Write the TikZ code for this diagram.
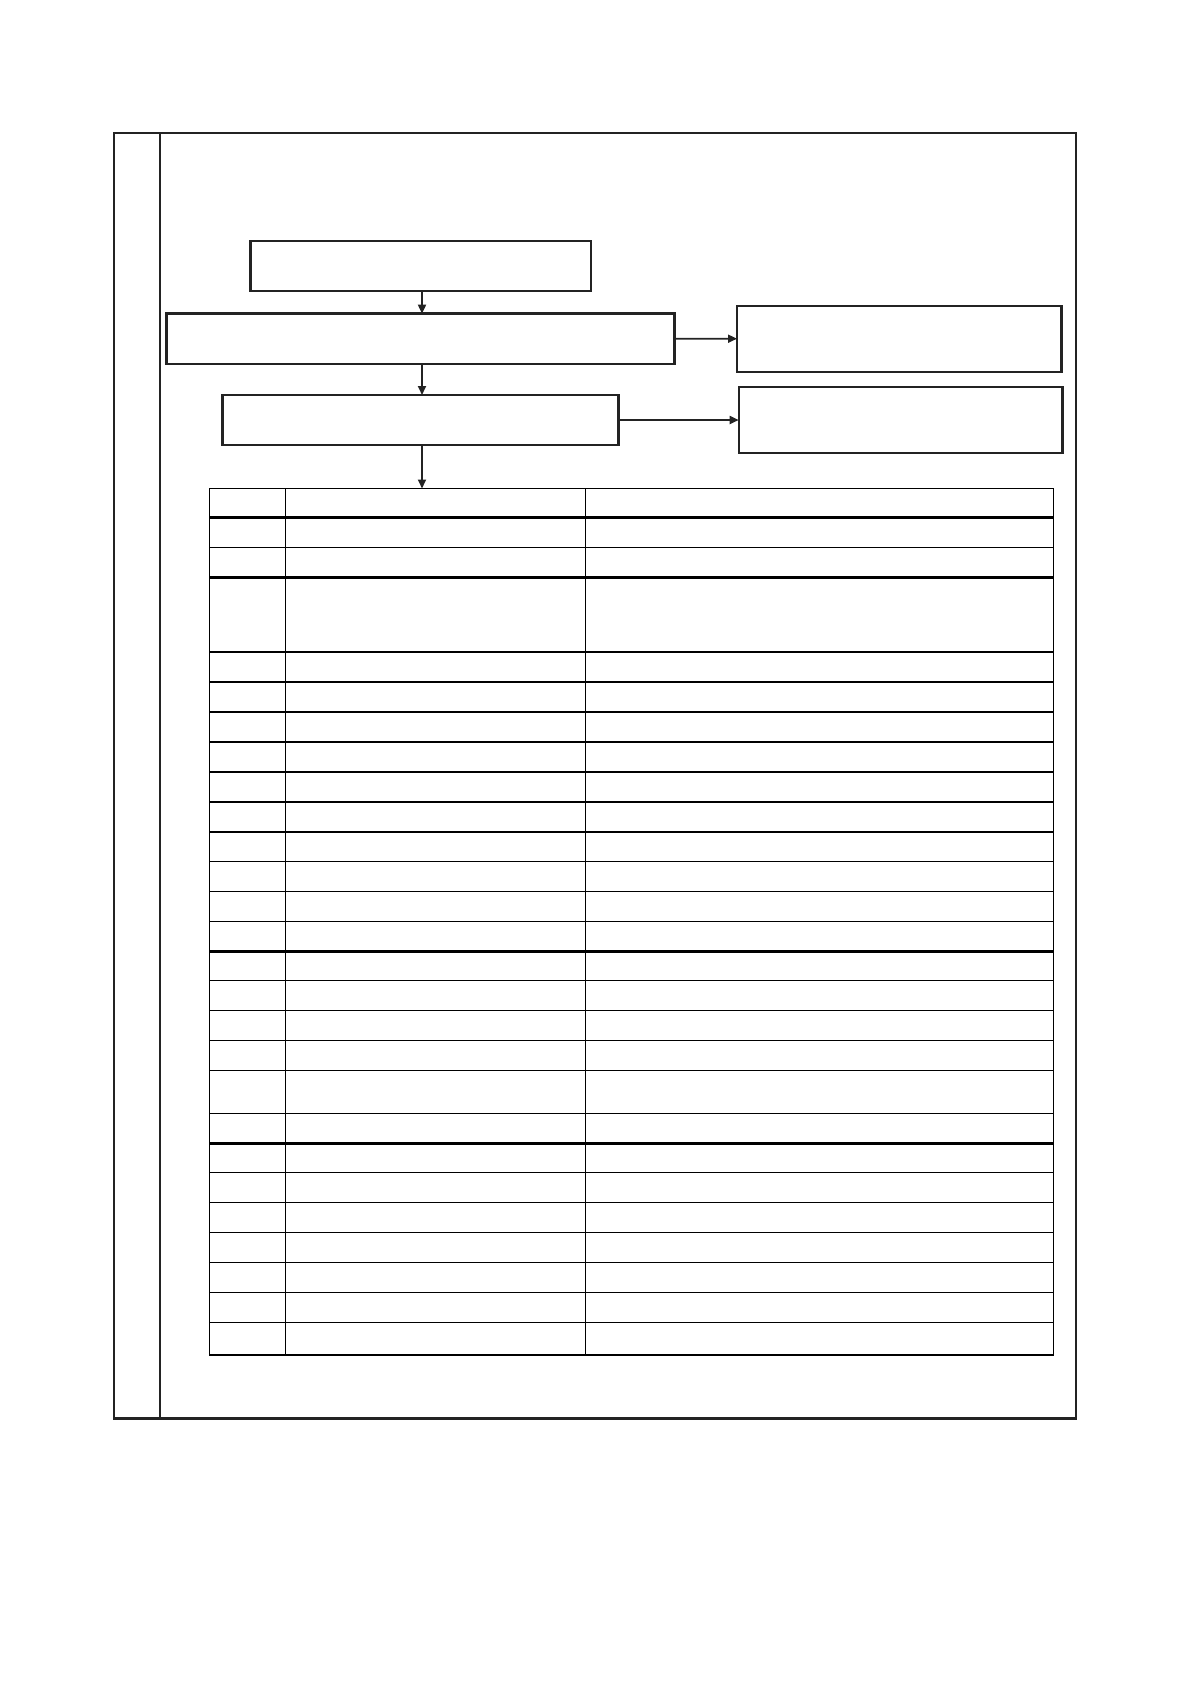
\documentclass[tikz,border=0pt]{standalone}
\usetikzlibrary{arrows.meta}
\definecolor{ink}{RGB}{35,35,35}
\tikzset{
  box/.style={draw=ink, line width=2.4pt, inner sep=0pt, outer sep=0pt, rectangle},
  flow/.style={draw=ink, line width=1.8pt, -{Triangle[length=9pt,width=8pt]}},
  grid/.style={draw=black, line width=1.6pt},
  thickgrid/.style={draw=black, line width=3pt},
}
\begin{document}
\begin{tikzpicture}[x=1pt,y=-1pt]
\useasboundingbox (0,0) rectangle (1190,1684);
% outer frame
\node[box, line width=2.8pt, minimum width=962pt, minimum height=1285.7pt, anchor=north west] (frame) at (114,133) {};
\coordinate (divtop) at (160,133);
\coordinate (divbot) at (160,1418.7);
\draw[ink, line width=2.8pt] (divtop) -- (divbot);
% flow boxes
\node[box, minimum width=340.5pt, minimum height=50pt] (b1) at (420.75,266) {};
\node[box, minimum width=508pt, minimum height=50.3pt] (b2) at (420.5,338.8) {};
\node[box, minimum width=396.3pt, minimum height=50pt] (b3) at (420.5,420) {};
\node[box, minimum width=324.3pt, minimum height=66pt] (b4) at (899.2,338.7) {};
\node[box, minimum width=323.6pt, minimum height=66pt] (b5) at (900.5,420) {};
% table outline
\node[grid, rectangle, inner sep=0pt, outer sep=0pt, minimum width=844pt, minimum height=866.5pt, anchor=north west] (tbl) at (209.5,488.5) {};
% connectors
\coordinate (ax) at (422,0);
\draw[flow] (b1.south -| ax) -- (b2.north -| ax);
\draw[flow] (b2.south -| ax) -- (b3.north -| ax);
\draw[flow] (b3.south -| ax) -- (tbl.north -| ax);
\draw[flow] (b2.east) -- (b4.west);
\draw[flow] (b3.east) -- (b5.west);
% table columns
\foreach \cx in {285.3,585.5}
  \draw[grid] (\cx,488.5) -- (\cx,1355);
% table rows
\foreach \ry in {547.5,652,682,712,742,772,802,832,861.5,891.5,921.5,980.5,1010.5,1040.5,1070.5,1113.5,1172.5,1202.5,1232.5,1262.5,1292.5,1322.5}
  \draw[grid] (209.5,\ry) -- (1053.5,\ry);
\foreach \ry in {517,577.5,951,1143}
  \draw[thickgrid] (209.5,\ry) -- (1053.5,\ry);
\end{tikzpicture}
\end{document}
